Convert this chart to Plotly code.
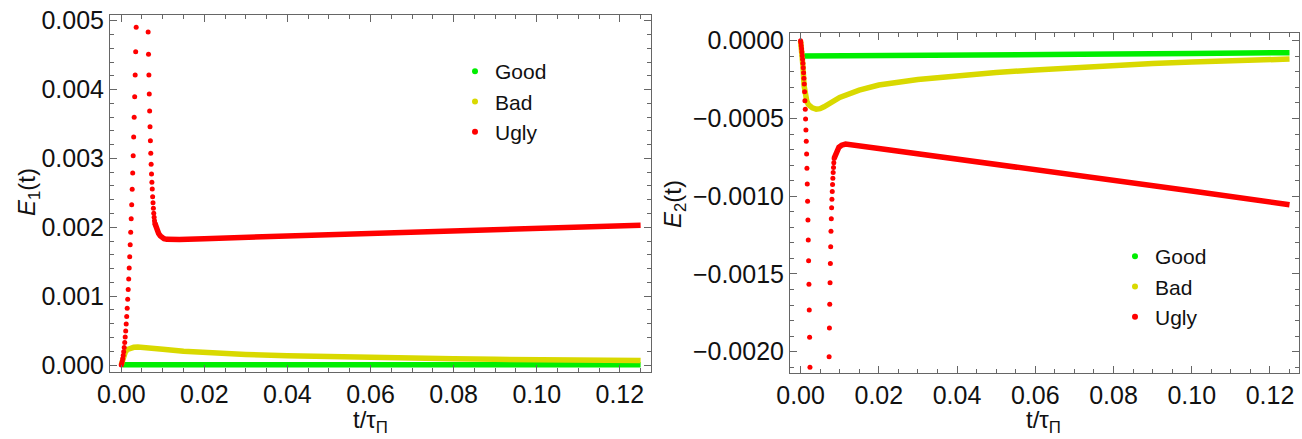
import plotly.graph_objects as go
import numpy as np

S = 1e-3  # values below are read in units of 1e-3

# ---------- left panel: E1(t) ----------
t_good1 = [0.0003, 0.02, 0.04, 0.06, 0.08, 0.10, 0.125]
E_good1 = [0.004, 0.004, 0.004, 0.004, 0.004, 0.004, 0.004]

t_bad1 = [0, 0.0005, 0.001, 0.0015, 0.002, 0.003, 0.004, 0.005, 0.007, 0.01, 0.015, 0.02,
          0.03, 0.04, 0.05, 0.06, 0.07, 0.08, 0.09, 0.10, 0.11, 0.125]
E_bad1 = [0, 0.12, 0.19, 0.225, 0.243, 0.257, 0.26, 0.257, 0.245, 0.228, 0.2, 0.178,
          0.152, 0.133, 0.118, 0.106, 0.097, 0.089, 0.082, 0.076, 0.071, 0.065]

t_ugly1_rise = [0, 0.00012, 0.00024, 0.00036, 0.00048, 0.0006, 0.00072, 0.00084, 0.00096, 0.00108,
                0.0012, 0.00132, 0.00144, 0.00156, 0.00168, 0.0018, 0.00192, 0.00204, 0.00216, 0.00228,
                0.0024, 0.00252, 0.00264, 0.00276, 0.00288, 0.003, 0.00312, 0.00324, 0.00336, 0.00348, 0.0036]
E_ugly1_rise = [0, 0.020, 0.050, 0.090, 0.138, 0.192, 0.255, 0.325, 0.405, 0.495,
                0.595, 0.705, 0.825, 0.955, 1.095, 1.249, 1.409, 1.573, 1.745, 1.927,
                2.125, 2.328, 2.552, 2.788, 3.040, 3.311, 3.597, 3.896, 4.211, 4.550, 4.904]
t_ugly1_fall = [0.00648, 0.00657, 0.00666, 0.00675, 0.00684, 0.00693, 0.00702, 0.00711, 0.0072, 0.00729,
                0.00738, 0.00747, 0.00756, 0.00765, 0.00774, 0.00783, 0.00792, 0.00801, 0.0081]
E_ugly1_fall = [4.836, 4.512, 4.211, 3.935, 3.689, 3.461, 3.257, 3.074, 2.915, 2.774,
                2.653, 2.556, 2.444, 2.357, 2.276, 2.203, 2.145, 2.096, 2.058]
t_ugly1_tail = [0.0081, 0.0084, 0.0087, 0.009, 0.0094, 0.0098, 0.0103, 0.011, 0.012, 0.014,
                0.02, 0.04, 0.06, 0.08, 0.10, 0.125]
E_ugly1_tail = [2.058, 2.0, 1.95, 1.91, 1.875, 1.85, 1.835, 1.825, 1.82, 1.822,
                1.835, 1.875, 1.915, 1.955, 1.99, 2.03]

# ---------- right panel: E2(t) ----------
t_good2 = [0.0003, 0.02, 0.04, 0.06, 0.08, 0.10, 0.125]
E_good2 = [-0.098, -0.097, -0.094, -0.090, -0.086, -0.082, -0.077]

t_bad2 = [0, 0.0003, 0.0006, 0.0009, 0.0012, 0.0016, 0.002, 0.003, 0.004, 0.005, 0.006, 0.008,
          0.01, 0.015, 0.02, 0.03, 0.04, 0.05, 0.06, 0.07, 0.08, 0.09, 0.10, 0.11, 0.125]
E_bad2 = [0, -0.06, -0.16, -0.29, -0.35, -0.39, -0.41, -0.432, -0.44, -0.437, -0.425, -0.395,
          -0.365, -0.318, -0.285, -0.25, -0.225, -0.205, -0.188, -0.172, -0.158, -0.147, -0.137, -0.129, -0.118]

t_ugly2_fall = [0, 0.000086, 0.000171, 0.000257, 0.000343, 0.000429, 0.000514, 0.0006, 0.000686, 0.000771,
                0.000857, 0.000943, 0.001029, 0.001114, 0.0012, 0.001286, 0.001371, 0.001457, 0.001543, 0.001629,
                0.001714, 0.0018, 0.001886, 0.001971, 0.002057, 0.002143, 0.002229, 0.002314, 0.0024]
E_ugly2_fall = [0, -0.013, -0.032, -0.051, -0.073, -0.096, -0.120, -0.145, -0.174, -0.206,
                -0.242, -0.278, -0.328, -0.386, -0.441, -0.504, -0.574, -0.647, -0.729, -0.821,
                -0.922, -1.033, -1.153, -1.281, -1.415, -1.567, -1.732, -1.907, -2.100]
t_ugly2_rise = [0.0073, 0.00738, 0.00746, 0.00754, 0.00762, 0.0077, 0.00778, 0.00786, 0.00794,
                0.00802, 0.0081, 0.00818, 0.00826, 0.00834, 0.00842, 0.0085, 0.00858]
E_ugly2_rise = [-2.032, -1.848, -1.695, -1.556, -1.432, -1.325, -1.225, -1.145, -1.075,
                -1.02, -0.97, -0.925, -0.885, -0.848, -0.815, -0.785, -0.757]
t_ugly2_tail = [0.00858, 0.0089, 0.0093, 0.0098, 0.0105, 0.0115, 0.02, 0.04, 0.06, 0.08, 0.10, 0.125]
E_ugly2_tail = [-0.757, -0.73, -0.705, -0.685, -0.672, -0.665, -0.693, -0.76, -0.828, -0.897, -0.966, -1.055]

series_names = ["Good", "Bad", "Ugly"]
x_ticks = [0.0, 0.02, 0.04, 0.06, 0.08, 0.10, 0.12]

GREEN = "#00ee00"
YELLOW = "#d9d900"
RED = "#ff0000"
FRAME = "#666666"
FONT = "Liberation Sans, Arial, sans-serif"
LW = 5.5
MS = 5

W, H = 1302, 439
fig = go.Figure()


def line(t, e, color, xa, ya):
    fig.add_trace(go.Scatter(x=t, y=np.array(e) * S, mode="lines", xaxis=xa, yaxis=ya,
                             line=dict(color=color, width=LW), showlegend=False, hoverinfo="skip"))


def dots(t, e, color, xa, ya):
    fig.add_trace(go.Scatter(x=t, y=np.array(e) * S, mode="markers", xaxis=xa, yaxis=ya,
                             marker=dict(color=color, size=MS), showlegend=False, hoverinfo="skip"))


# left panel
line(t_good1, E_good1, GREEN, "x", "y")
line(t_bad1, E_bad1, YELLOW, "x", "y")
line(t_ugly1_tail, E_ugly1_tail, RED, "x", "y")
dots(t_ugly1_rise, E_ugly1_rise, RED, "x", "y")
dots(t_ugly1_fall, E_ugly1_fall, RED, "x", "y")
# right panel
line(t_good2, E_good2, GREEN, "x2", "y2")
line(t_bad2, E_bad2, YELLOW, "x2", "y2")
line(t_ugly2_tail, E_ugly2_tail, RED, "x2", "y2")
dots(t_ugly2_fall, E_ugly2_fall, RED, "x2", "y2")
dots(t_ugly2_rise, E_ugly2_rise, RED, "x2", "y2")

# legend entries
for leg, xa, ya in [("legend", "x", "y"), ("legend2", "x2", "y2")]:
    for name, c in zip(series_names, [GREEN, YELLOW, RED]):
        fig.add_trace(go.Scatter(x=[None], y=[None], mode="markers", name=name, xaxis=xa, yaxis=ya,
                                 marker=dict(color=c, size=MS + 1), legend=leg))

xcommon = dict(range=[-0.0027, 0.1275], tickmode="array", tickvals=x_ticks,
               ticktext=[f"{v:.2f}" for v in x_ticks], automargin=False,
               ticks="inside", ticklen=7, tickwidth=1, tickcolor=FRAME,
               showline=True, linecolor=FRAME, linewidth=1, mirror="allticks",
               minor=dict(ticks="inside", ticklen=4, dtick=0.005, tick0=0, tickcolor=FRAME),
               showgrid=False, zeroline=False, tickfont=dict(size=25, color="#111"))
ycommon = dict(ticks="inside", ticklen=7, tickwidth=1, tickcolor=FRAME, automargin=False,
               showline=True, linecolor=FRAME, linewidth=1, mirror="allticks",
               showgrid=False, zeroline=False, tickfont=dict(size=25, color="#111"))

fig.update_layout(
    width=W, height=H, margin=dict(l=0, r=0, t=0, b=0, autoexpand=False),
    paper_bgcolor="white", plot_bgcolor="white",
    font=dict(family=FONT, color="#111"),
    xaxis=dict(domain=[110 / W, 651 / W], anchor="y", **xcommon),
    yaxis=dict(domain=[(H - 371.7) / H, (H - 14.7) / H], anchor="x",
               range=[-0.0000973, 0.005087], tick0=0, dtick=0.001, tickformat=".3f",
               minor=dict(ticks="inside", ticklen=4, dtick=0.0002, tick0=0, tickcolor=FRAME),
               **ycommon),
    xaxis2=dict(domain=[790 / W, 1299.3 / W], anchor="y2", **xcommon),
    yaxis2=dict(domain=[(H - 372.7) / H, (H - 33.3) / H], anchor="x2",
                range=[-0.002135, 0.0000476], tick0=0, dtick=0.0005, tickformat=".4f",
                minor=dict(ticks="inside", ticklen=4, dtick=0.0001, tick0=0, tickcolor=FRAME),
                **ycommon),
    legend=dict(x=455 / W, y=(H - 51) / H, xanchor="left", yanchor="top",
                bgcolor="rgba(0,0,0,0)", font=dict(size=21, color="#111"), itemwidth=30),
    legend2=dict(x=1115 / W, y=(H - 236) / H, xanchor="left", yanchor="top",
                 bgcolor="rgba(0,0,0,0)", font=dict(size=21, color="#111"), itemwidth=30),
    annotations=[
        dict(text="<i>E</i><sub>1</sub>(t)", x=28 / W, y=(H - 192) / H, xref="paper", yref="paper",
             textangle=-90, showarrow=False, font=dict(size=24), xanchor="center", yanchor="middle"),
        dict(text="<i>E</i><sub>2</sub>(t)", x=674 / W, y=(H - 204) / H, xref="paper", yref="paper",
             textangle=-90, showarrow=False, font=dict(size=24), xanchor="center", yanchor="middle"),
        dict(text="t/τ<sub>Π</sub>", x=370 / W, y=(H - 421) / H, xref="paper", yref="paper",
             showarrow=False, font=dict(size=24), xanchor="center", yanchor="middle"),
        dict(text="t/τ<sub>Π</sub>", x=1043 / W, y=(H - 421) / H, xref="paper", yref="paper",
             showarrow=False, font=dict(size=24), xanchor="center", yanchor="middle"),
    ],
)

fig.write_html("out.html", config={"displayModeBar": False},
               post_script="document.body.style.margin='0';document.body.style.overflow='hidden';")
